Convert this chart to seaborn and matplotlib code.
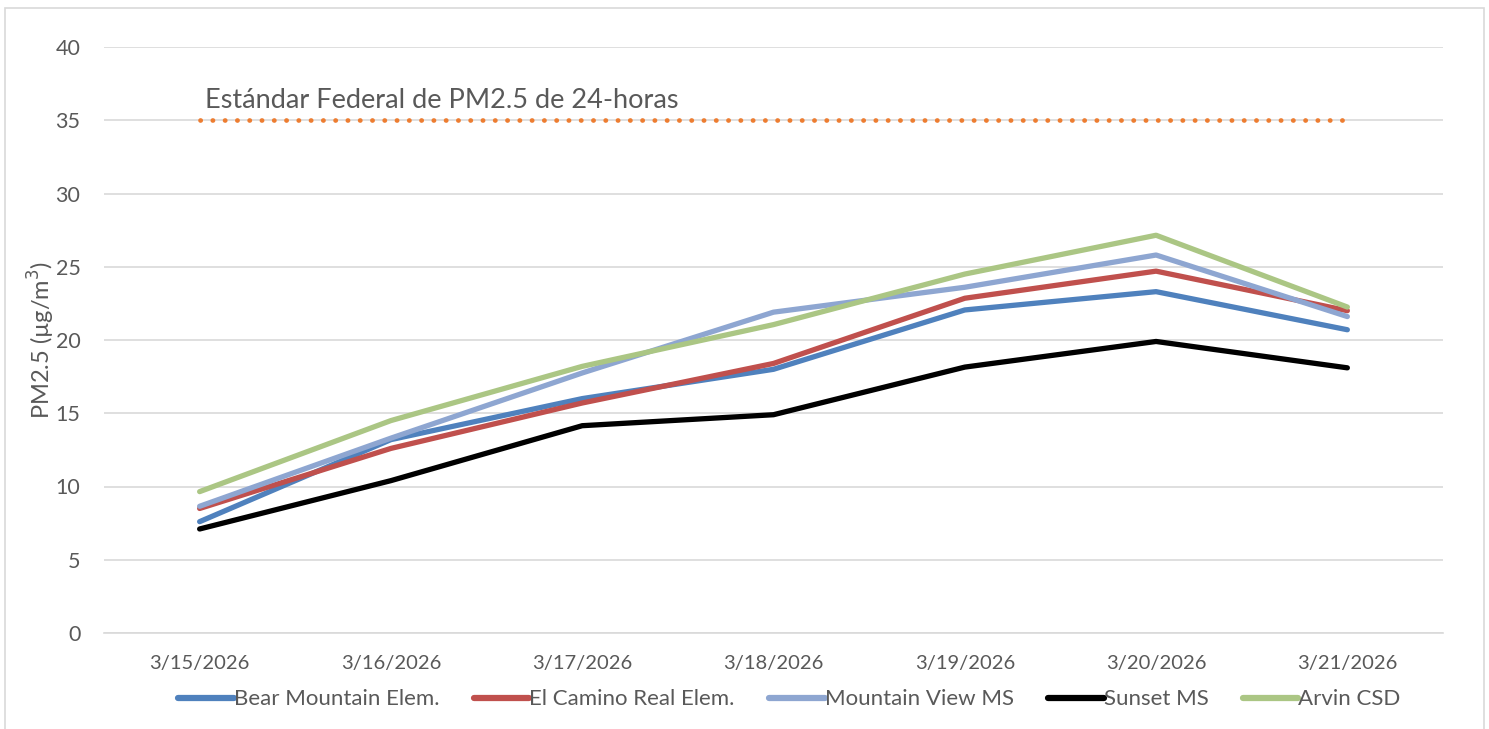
import pandas as pd
import matplotlib.pyplot as plt
import seaborn as sns
from matplotlib.patches import Rectangle

dates = ["3/15/2026", "3/16/2026", "3/17/2026", "3/18/2026",
         "3/19/2026", "3/20/2026", "3/21/2026"]

bear_mountain = [7.6, 13.2, 16.0, 18.0, 22.05, 23.3, 20.7]
el_camino = [8.5, 12.6, 15.7, 18.4, 22.85, 24.7, 22.0]
mountain_view = [8.65, 13.3, 17.75, 21.9, 23.6, 25.8, 21.6]
sunset = [7.1, 10.4, 14.15, 14.9, 18.15, 19.9, 18.1]
arvin = [9.65, 14.5, 18.2, 21.05, 24.5, 27.15, 22.25]

series_names = ["Bear Mountain Elem.", "El Camino Real Elem.",
                "Mountain View MS", "Sunset MS", "Arvin CSD"]
series_colors = ["#4F81BD", "#C0504D", "#8EA6D1", "#000000", "#ABC684"]

standard = 35
standard_label = "Estándar Federal de PM2.5 de 24-horas"

# long form table for seaborn
rows = []
for name, vals in zip(series_names, [bear_mountain, el_camino, mountain_view, sunset, arvin]):
    for d, v in zip(dates, vals):
        rows.append({"date": d, "site": name, "pm": v})
df = pd.DataFrame(rows)
std_df = pd.DataFrame({"date": dates, "pm": [standard] * len(dates)})

sns.set_style("white")
plt.rcParams["font.family"] = ["Lato", "DejaVu Sans"]
text_color = "#595959"

fig = plt.figure(figsize=(14.89, 7.29), dpi=100)
ax = fig.add_axes([104 / 1489, 1 - 633 / 729, (1443 - 104) / 1489, (633 - 47) / 729])

# chart border
fig.patches.append(Rectangle((5 / 1489, -0.01), (1484 - 5) / 1489, 1 - 8 / 729 + 0.01,
                             transform=fig.transFigure, fill=False,
                             edgecolor="#D9D9D9", linewidth=1.2, zorder=0))

sns.lineplot(data=std_df, x="date", y="pm", ax=ax, color="#ED7D31",
             linewidth=3.4, linestyle=(0, (0.05, 2.55)), dash_capstyle="round",
             legend=False, zorder=2)

sns.lineplot(data=df, x="date", y="pm", hue="site", hue_order=series_names,
             palette=series_colors, linewidth=3.8, ax=ax, sort=False,
             solid_capstyle="round", solid_joinstyle="round", zorder=3)

ax.text(0.03, 35.85, standard_label, fontsize=19.5, color=text_color,
        ha="left", va="baseline")

ax.set_ylim(0, 40)
ax.set_xlim(-0.5, len(dates) - 0.5)
ax.set_yticks(range(0, 41, 5))
ax.yaxis.grid(True, color="#D9D9D9", linewidth=1.2)
ax.xaxis.grid(False)
for s in ["top", "right", "left"]:
    ax.spines[s].set_visible(False)
ax.spines["bottom"].set_color("#D9D9D9")
ax.spines["bottom"].set_linewidth(1.2)

ax.set_xticks(range(len(dates)))
ax.set_xticklabels(dates)
ax.set_xticks([i + 0.5 for i in range(-1, len(dates))], minor=True)
ax.tick_params(axis="x", which="major", length=0, pad=16, labelsize=14.5, labelcolor=text_color)
ax.tick_params(axis="x", which="minor", length=6, color="#D9D9D9", width=1.2, direction="out")
ax.tick_params(axis="y", length=0, pad=17, labelsize=15.5, labelcolor=text_color)

ax.set_xlabel("")
ax.set_ylabel("PM2.5 (µg/m$^3$)", fontsize=17, color=text_color, labelpad=-1)

handles, labels = ax.get_legend_handles_labels()
leg = ax.legend(handles, labels, loc="upper center", bbox_to_anchor=(0.512, -0.062),
                ncol=5, frameon=False, fontsize=16, handlelength=2.5,
                handletextpad=0.0, columnspacing=1.55, labelcolor=text_color)
for line in leg.get_lines():
    line.set_linewidth(4.5)
    line.set_solid_capstyle("round")

fig.savefig("out.png", dpi=100)
